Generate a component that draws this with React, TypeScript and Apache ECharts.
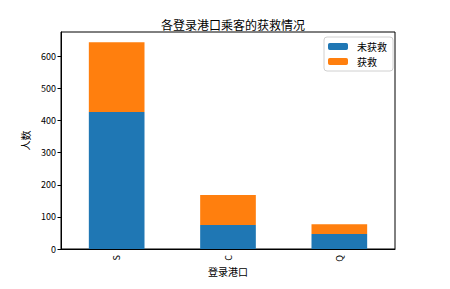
import React, { useEffect, useRef } from "react";
import * as echarts from "echarts";

const categories = ["S", "C", "Q"];
const notSurvived = [427, 75, 47];
const survived = [217, 93, 30];
const yTicks = [0, 100, 200, 300, 400, 500, 600];
const seriesNames = ["未获救", "获救"];
const xAxisName = "登录港口";

const FONT = "'Noto Sans CJK SC', 'DejaVu Sans', sans-serif";

export default function App() {
  const ref = useRef<HTMLDivElement>(null);
  useEffect(() => {
    if (!ref.current) return;
    const chart = echarts.init(ref.current, undefined, { renderer: "svg" });
    const totals = categories.map((_, i) => notSurvived[i] + survived[i]);
    const ymax = Math.max(...totals) * 1.05;
    chart.setOption({
      animation: false,
      backgroundColor: "#fff",
      textStyle: { fontFamily: FONT },
      title: {
        text: "各登录港口乘客的获救情况",
        left: 228,
        textAlign: "center",
        top: 13,
        textStyle: { fontSize: 12, fontWeight: "normal", color: "#000", fontFamily: FONT },
      },
      legend: {
        orient: "vertical",
        left: 324,
        top: 37,
        padding: [4, 6, 4, 4],
        itemWidth: 20,
        itemHeight: 7,
        itemGap: 4,
        borderColor: "#d0d0d0",
        borderWidth: 1,
        borderRadius: 3,
        backgroundColor: "#fff",
        data: seriesNames,
        textStyle: { fontSize: 10, lineHeight: 11, color: "#000", fontFamily: FONT, padding: [0, 0, 0, 4] },
      },
      grid: {
        left: 61,
        right: 55,
        top: 32,
        bottom: 40,
        show: true,
        borderColor: "#000",
        borderWidth: 1,
        backgroundColor: "transparent",
      },
      graphic: [
        {
          type: "text",
          x: 228,
          y: 271,
          style: {
            text: xAxisName,
            fontSize: 10,
            fill: "#000",
            fontFamily: FONT,
            align: "center",
            verticalAlign: "middle",
          },
        },
      ],
      xAxis: {
        type: "category",
        data: categories,
        axisLine: { lineStyle: { color: "#000", width: 1 } },
        axisTick: { alignWithLabel: true, length: 3.5, lineStyle: { color: "#000" } },
        axisLabel: { rotate: 90, fontSize: 9, color: "#000", margin: 6, fontFamily: FONT },
      },
      yAxis: {
        type: "value",
        min: 0,
        max: ymax,
        interval: 100,
        name: "人数",
        nameLocation: "middle",
        nameGap: 28,
        nameRotate: 90,
        nameTextStyle: { fontSize: 10, color: "#000", fontFamily: FONT },
        axisLine: { show: true, lineStyle: { color: "#000", width: 1 } },
        axisTick: { show: true, length: 3.5, lineStyle: { color: "#000" }, customValues: yTicks },
        axisLabel: { fontSize: 9, color: "#000", margin: 5, customValues: yTicks, fontFamily: FONT },
        splitLine: { show: false },
      },
      series: [
        {
          name: seriesNames[0],
          type: "bar",
          stack: "total",
          barWidth: "50%",
          data: notSurvived,
          itemStyle: { color: "#1f77b4" },
        },
        {
          name: seriesNames[1],
          type: "bar",
          stack: "total",
          barWidth: "50%",
          data: survived,
          itemStyle: { color: "#ff7f0e" },
        },
      ],
    });
    return () => chart.dispose();
  }, []);
  return <div ref={ref} style={{ width: 450, height: 289, position: "absolute", left: 0, top: 0 }} />;
}
